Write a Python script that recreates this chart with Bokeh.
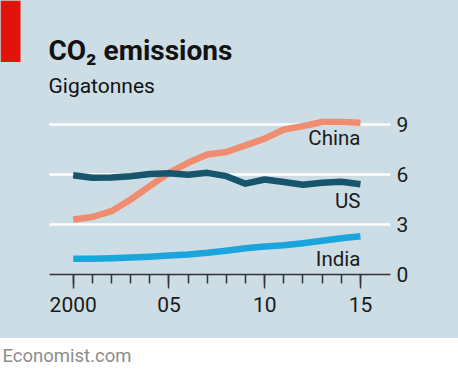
from bokeh.plotting import figure
from bokeh.models import FixedTicker, BoxAnnotation, Label, ColumnDataSource
from bokeh.layouts import column
from bokeh.core.properties import value
from bokeh.embed import file_html
from bokeh.resources import INLINE

years = list(range(2000, 2016))
china = [3.3, 3.45, 3.8, 4.5, 5.3, 6.1, 6.7, 7.2, 7.35, 7.75, 8.15, 8.7, 8.9, 9.15, 9.15, 9.1]
us = [5.95, 5.8, 5.82, 5.9, 6.03, 6.08, 5.98, 6.1, 5.9, 5.45, 5.7, 5.55, 5.38, 5.5, 5.56, 5.42]
india = [0.95, 0.95, 0.98, 1.02, 1.07, 1.14, 1.2, 1.3, 1.43, 1.58, 1.68, 1.75, 1.88, 2.02, 2.17, 2.3]
series_names = ["China", "US", "India"]
x_ticks = [2000, 2005, 2010, 2015]
x_tick_labels = ["2000", "05", "10", "15"]
y_ticks = [0, 3, 6, 9]
grid_ticks = [3, 6, 9]

BG = "#cddde6"
FONT = "Roboto"
colors = ["#f08c70", "#17556c", "#1aa5dc"]
label_y = [8.22, 4.4, 0.96]

X0, X1 = 1996.204, 2016.57      # visible x range (frame spans whole left side)
PLOT_X0 = 1998.76               # left end of gridlines / axis line
Y1 = 16.44

p = figure(width=458, height=338, title=None, toolbar_location=None,
           output_backend="svg", x_range=(X0, X1), y_range=(0, Y1),
           y_axis_location="right", min_border_left=0, min_border_right=68,
           min_border_top=0, min_border_bottom=64,
           background_fill_color=None, border_fill_color=None, outline_line_color=None)
p.styles = {"background-color": BG}

# header
p.add_layout(BoxAnnotation(left=X0, right=1997.248, bottom=12.75, top=Y1,
                           fill_color="#e3120b", fill_alpha=1, line_color=None))
p.add_layout(Label(x=1998.71, y=12.48, text="CO₂ emissions", text_font=FONT,
                   text_font_style="bold", text_font_size="28px", text_color="#121212"))
p.add_layout(Label(x=1998.71, y=10.62, text="Gigatonnes", text_font=FONT,
                   text_font_size="21px", text_color="#121212"))

# gridlines
p.xgrid.visible = False
p.ygrid.visible = False
p.segment(x0=[PLOT_X0] * len(grid_ticks), x1=[X1] * len(grid_ticks),
          y0=grid_ticks, y1=grid_ticks, line_color="white", line_width=2.5)

src = ColumnDataSource(dict(year=years, China=china, US=us, India=india))
for name, c in zip(series_names, colors):
    p.line("year", name, source=src, line_color=c, line_width=6.5,
           line_cap="butt", line_join="round")

p.text(x=[years[-1]] * 3, y=label_y, text=series_names, text_align="right",
       text_baseline="alphabetic", text_font=value(FONT), text_font_size="20.5px",
       text_color="#1a1a1a")

# x axis
p.xaxis.bounds = (PLOT_X0, X1)
p.xaxis.ticker = FixedTicker(ticks=x_ticks, minor_ticks=years)
p.xaxis.major_label_overrides = {t: l for t, l in zip(x_ticks, x_tick_labels)}
p.xaxis.axis_line_color = "#333333"
p.xaxis.axis_line_width = 1.5
p.xaxis.major_tick_line_color = "#333333"
p.xaxis.minor_tick_line_color = "#333333"
p.xaxis.major_tick_line_width = 1.5
p.xaxis.minor_tick_line_width = 1.5
p.xaxis.major_tick_in = 0
p.xaxis.minor_tick_in = 0
p.xaxis.major_tick_out = 14
p.xaxis.minor_tick_out = 9
p.xaxis.major_label_standoff = 8
p.xaxis.major_label_text_font = FONT
p.xaxis.major_label_text_font_size = "21px"
p.xaxis.major_label_text_color = "#1a1a1a"

# y axis
p.yaxis.ticker = FixedTicker(ticks=y_ticks)
p.yaxis.axis_line_color = None
p.yaxis.major_tick_line_color = None
p.yaxis.minor_tick_line_color = None
p.yaxis.major_tick_out = 0
p.yaxis.major_tick_in = 0
p.yaxis.major_label_standoff = 6
p.yaxis.major_label_text_font = FONT
p.yaxis.major_label_text_font_size = "21px"
p.yaxis.major_label_text_color = "#1a1a1a"

# footer
f = figure(width=458, height=38, title=None, toolbar_location=None,
           output_backend="svg", x_range=(0, 1), y_range=(0, 38),
           min_border=0, background_fill_color=None, border_fill_color=None,
           outline_line_color=None)
f.styles = {"background-color": "white"}
f.axis.visible = False
f.grid.visible = False
f.add_layout(Label(x=0, y=10, x_offset=2, text="Economist.com", text_font=FONT,
                   text_font_size="18.5px", text_color="#8c8c8c"))

layout = column(p, f)
open("out.html", "w").write(file_html(layout, INLINE))
